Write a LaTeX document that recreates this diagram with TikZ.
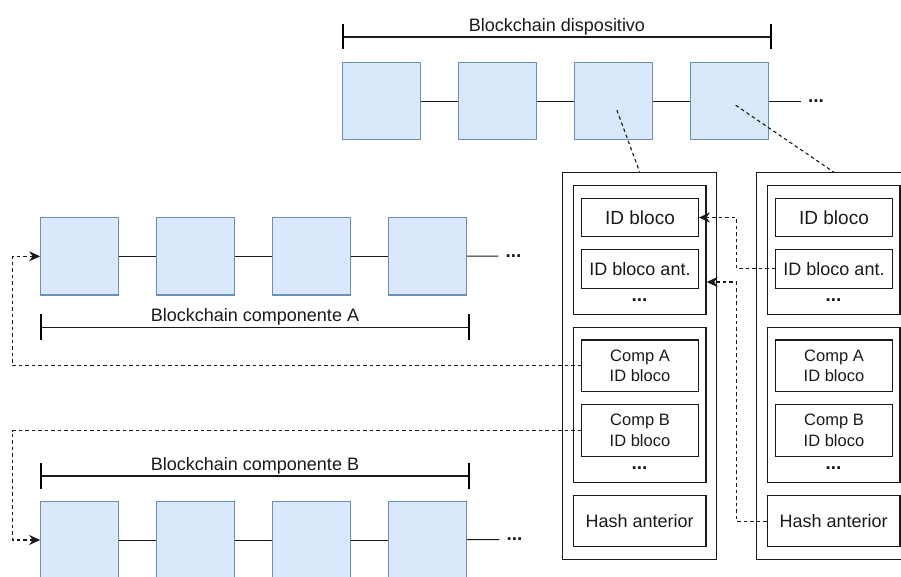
\documentclass[tikz,border=0pt]{standalone}
\usepackage{fontspec}
\setmainfont{Liberation Sans}
\usetikzlibrary{arrows.meta,calc}
\definecolor{blockfill}{HTML}{DAE8FC}
\definecolor{blockdraw}{HTML}{6C8EBF}
\definecolor{ink}{HTML}{1A1A1A}
\tikzset{
  blk/.style={draw=blockdraw, fill=blockfill, line width=1.2pt,
    minimum width=77.5pt, minimum height=77.5pt, inner sep=0pt},
  link/.style={draw=ink, line width=1pt},
  wh/.style 2 args={minimum width=#1pt, minimum height=#2pt},
  cbox/.style={draw=ink, line width=1.2pt, inner sep=0pt, align=center, text=ink,
    font=\fontsize{18}{21}\selectfont},
  idtxt/.style={font=\fontsize{19}{22}\selectfont},
  comptxt/.style={font=\fontsize{16.5}{20.5}\selectfont},
  dotsnode/.style={inner sep=0pt, text=ink, font=\fontsize{19}{19}\selectfont\bfseries},
  chainlbl/.style={inner sep=0pt, text=ink, anchor=base, font=\fontsize{18}{21}\selectfont},
  barline/.style={draw=ink, line width=1.5pt},
  barend/.style={draw=black, line width=2.8pt},
  dsh/.style={draw=ink, line width=1.1pt, dash pattern=on 3.5pt off 3pt},
  dsharrow/.style={dsh, -{Stealth[length=11pt,width=10pt,inset=3.5pt]}},
}
\begin{document}
\begin{tikzpicture}[x=1pt, y=-1pt]
\useasboundingbox (0,0) rectangle (901,576);
\clip (0,0) rectangle (901,576);

% device chain
\node[blk] (d1) at (381.5,101) {};
\node[blk] (d2) at (497.5,101) {};
\node[blk] (d3) at (613.5,101) {};
\node[blk] (d4) at (729.5,101) {};
\node[dotsnode] (ddots) at (816,101) {...};
\draw[link] (d1) -- (d2);
\draw[link] (d2) -- (d3);
\draw[link] (d3) -- (d4);
\draw[link] (d4) -- ([xshift=-7pt]ddots.west);

% component A chain
\node[blk] (a1) at (79.5,256.3) {};
\node[blk] (a2) at (195.5,256.3) {};
\node[blk] (a3) at (311.5,256.3) {};
\node[blk] (a4) at (427.5,256.3) {};
\node[dotsnode] (adots) at (513.5,256) {...};
\draw[link] (a1) -- (a2);
\draw[link] (a2) -- (a3);
\draw[link] (a3) -- (a4);
\draw[link] (a4) -- ([xshift=-7pt]adots.west);

% component B chain
\node[blk] (bb1) at (79.5,540) {};
\node[blk] (bb2) at (195.5,540) {};
\node[blk] (bb3) at (311.5,540) {};
\node[blk] (bb4) at (427.5,540) {};
\node[dotsnode] (bdots) at (514.5,539.5) {...};
\draw[link] (bb1) -- (bb2);
\draw[link] (bb2) -- (bb3);
\draw[link] (bb3) -- (bb4);
\draw[link] (bb4) -- ([xshift=-7pt]bdots.west);

% range brackets
\draw[barline] (343,37) -- (771,37);
\draw[barend] (343,24) -- (343,49);
\draw[barend] (771,24) -- (771,49);
\node[chainlbl] (ltop) at (557,31.5) {Blockchain dispositivo};

\draw[barline] (41,327.3) -- (469,327.3);
\draw[barend] (41,314) -- (41,340);
\draw[barend] (469,314) -- (469,340);
\node[chainlbl] (la) at (255,321.8) {Blockchain componente A};

\draw[barline] (41,476) -- (469,476);
\draw[barend] (41,463) -- (41,489);
\draw[barend] (469,463) -- (469,489);
\node[chainlbl] (lb) at (255,470.5) {Blockchain componente B};

% first block structure
\node[cbox, wh={154}{386.6}] (b1) at (639.7,366) {};
\node[cbox, wh={132.7}{128.6}] (t1) at (639.7,250) {};
\node[cbox, idtxt, wh={116.6}{38.4}] (id1) at (640,217.5) {ID bloco};
\node[cbox, wh={116.6}{39}] (ida1) at (640,268.8) {ID bloco ant.};
\node[dotsnode] (td1) at (639.5,300) {...};
\node[cbox, wh={132.7}{155}] (m1) at (639.7,404.8) {};
\node[cbox, comptxt, wh={116.6}{51.7}] (ca1) at (640,365.8) {Comp A\\ID bloco};
\node[cbox, comptxt, wh={116.6}{52.4}] (cb1) at (640,430.5) {Comp B\\ID bloco};
\node[dotsnode] (md1) at (639.5,468) {...};
\node[cbox, wh={132.7}{51}] (h1) at (639.7,521.2) {Hash anterior};

% second block structure
\node[cbox, wh={154}{386.6}] (b2) at (833.7,366) {};
\node[cbox, wh={132.7}{128.6}] (t2) at (833.7,250) {};
\node[cbox, idtxt, wh={116.6}{38.4}] (id2) at (834,217.5) {ID bloco};
\node[cbox, wh={116.6}{39}] (ida2) at (834,268.8) {ID bloco ant.};
\node[dotsnode] (td2) at (833.5,300) {...};
\node[cbox, wh={132.7}{155}] (m2) at (833.7,404.8) {};
\node[cbox, comptxt, wh={116.6}{51.7}] (ca2) at (834,365.8) {Comp A\\ID bloco};
\node[cbox, comptxt, wh={116.6}{52.4}] (cb2) at (834,430.5) {Comp B\\ID bloco};
\node[dotsnode] (md2) at (833.5,468) {...};
\node[cbox, wh={132.7}{51}] (h2) at (833.7,521.2) {Hash anterior};

% detail callouts
\draw[dsh] ($(d3)!0.13!(b1.north)$) -- (b1.north);
\draw[dsh] ($(d4)!0.06!(b2.north)$) -- (b2.north);

% references between blocks
\draw[dsharrow] (ida2.west) -- ++(-38.5,0) |- (id1.east);
\draw[dsharrow] (h2.west) -- ++(-30.3,0) |- ([yshift=-32pt]t1.east);
\draw[dsharrow] (ca1.west) -- ++(-568.7,0) |- (a1.west);
\draw[dsharrow] (cb1.west) -- ++(-568.7,0) |- (bb1.west);
\end{tikzpicture}
\end{document}
